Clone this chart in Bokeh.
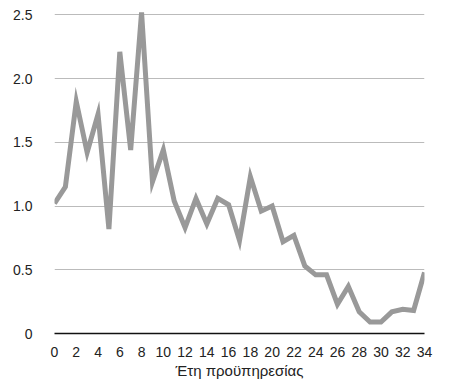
from bokeh.plotting import figure
from bokeh.models import Range1d, FixedTicker, ColumnDataSource
from bokeh.embed import file_html
from bokeh.resources import INLINE

years = list(range(0, 35))
values = [1.02, 1.15, 1.82, 1.42, 1.72, 0.82, 2.21, 1.44, 2.52, 1.19,
          1.44, 1.04, 0.83, 1.06, 0.86, 1.06, 1.01, 0.73, 1.23, 0.96,
          1.00, 0.72, 0.77, 0.53, 0.46, 0.46, 0.23, 0.37, 0.17, 0.09,
          0.09, 0.17, 0.19, 0.18, 0.48]
x_ticks = list(range(0, 35, 2))
y_ticks = [0, 0.5, 1.0, 1.5, 2.0, 2.5]
y_labels = {0: "0", 0.5: "0.5", 1: "1.0", 1.5: "1.5", 2: "2.0", 2.5: "2.5"}
x_title = "Έτη προϋπηρεσίας"

FONT = "Liberation Sans"

p = figure(width=445, height=381, output_backend="svg", toolbar_location=None,
           x_range=Range1d(0, 34), y_range=Range1d(0, 2.55),
           min_border_left=54, min_border_right=21, min_border_top=8, min_border_bottom=42)
p.outline_line_color = None
p.background_fill_color = "white"

src = ColumnDataSource(dict(x=years, y=values))
p.line("x", "y", source=src, line_color="#999999", line_width=5, line_join="miter")

# axes
p.xaxis.ticker = FixedTicker(ticks=x_ticks)
p.yaxis.ticker = FixedTicker(ticks=y_ticks)
p.yaxis.major_label_overrides = y_labels
p.xaxis.axis_label = x_title
for ax in (p.xaxis, p.yaxis):
    ax.major_tick_line_color = None
    ax.minor_tick_line_color = None
    ax.major_label_text_font = FONT
    ax.major_label_text_font_size = "14px"
    ax.major_label_text_color = "#222222"
p.xaxis.axis_line_color = "#111111"
p.xaxis.axis_line_width = 1.5
p.yaxis.axis_line_color = None
p.xaxis.major_label_standoff = 7
p.yaxis.major_label_standoff = 16
p.xaxis.axis_label_text_font = FONT
p.xaxis.axis_label_text_font_size = "15px"
p.xaxis.axis_label_text_font_style = "normal"
p.xaxis.axis_label_text_color = "#222222"
p.xaxis.axis_label_standoff = 2

p.xgrid.grid_line_color = None
p.ygrid.grid_line_color = "#bbbbbb"
p.ygrid.grid_line_width = 1

open("out.html", "w").write(file_html(p, INLINE))
